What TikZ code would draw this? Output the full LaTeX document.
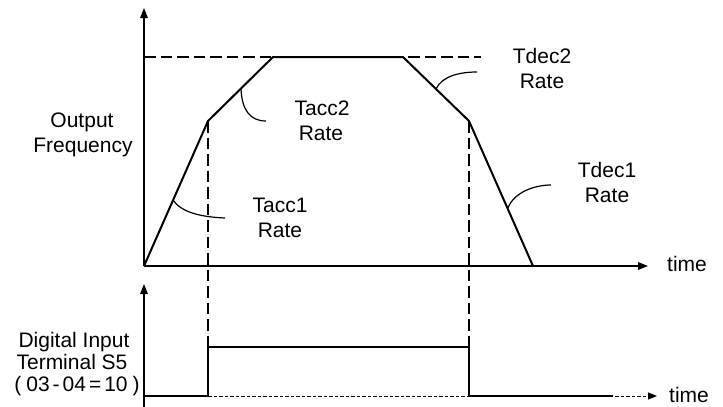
\documentclass[tikz,border=0pt]{standalone}
\usepackage{fontspec}
\setmainfont{Liberation Sans}
\usetikzlibrary{arrows.meta}
\begin{document}
\begin{tikzpicture}[x=1pt,y=-1pt,
  txt/.style={font=\fontsize{21}{25}\selectfont, inner sep=0pt, anchor=base},
  axis/.style={line width=1.4pt, -{Triangle[length=10pt,width=7.5pt]}},
  prof/.style={line width=2pt, line join=miter},
  guide/.style={line width=2pt, dash pattern=on 11.5pt off 5pt},
  thin/.style={line width=1pt, dash pattern=on 3.5pt off 2pt},
  leader/.style={line width=1.2pt}]
\useasboundingbox (0,0) rectangle (723,407);
% coordinates
\coordinate (o) at (144,266);
\coordinate (ytop) at (144,8);
\coordinate (xend) at (648,266);
\coordinate (p1) at (208,121);
\coordinate (p2) at (273,57);
\coordinate (p3) at (403,57);
\coordinate (p4) at (469,121);
\coordinate (p5) at (533,266);
\coordinate (dl) at (144,57);
\coordinate (dr) at (481,57);
% lower chart
\coordinate (ob) at (144,407);
\coordinate (ybtop) at (144,284);
\coordinate (l0) at (144,396);
\coordinate (r1) at (208,396);
\coordinate (h1) at (208,347);
\coordinate (h2) at (469,347);
\coordinate (r2) at (469,396);
\coordinate (l3) at (613,396);
\coordinate (bend) at (657,396);
% axes
\draw[axis] (o) -- (ytop);
\draw[axis] (o) -- (xend);
\draw[axis] (ob) -- (ybtop);
% dashed max line
\draw[guide] (dl) -- (dr);
% profile
\draw[prof] (o) -- (p1) -- (p2) -- (p3) -- (p4) -- (p5);
% vertical guides
\draw[guide] (p1) -- (h1);
\draw[guide] (p4) -- (h2);
% digital signal
\draw[thin, -{Triangle[length=9pt,width=7pt]}] (r1) -- (bend);
\draw[prof] (l0) -- (r1) -- (h1) -- (h2) -- (r2) -- (l3);
% leaders
\coordinate (a2s) at (241,89);
\coordinate (a2e) at (266,121);
\draw[leader] (a2s) .. controls (242,110) and (250,121) .. (a2e);
\coordinate (a1s) at (173,200);
\coordinate (a1e) at (225,218);
\draw[leader] (a1s) .. controls (181,212) and (200,217) .. (a1e);
\coordinate (d2s) at (436,89);
\coordinate (d2e) at (477,72);
\draw[leader] (d2s) .. controls (442,76) and (460,72) .. (d2e);
\coordinate (d1s) at (508,208);
\coordinate (d1e) at (551,185);
\draw[leader] (d1s) .. controls (514,192) and (535,185) .. (d1e);
% labels
\node[txt] (of1) at (82,127) {Output};
\node[txt] (of2) at (83,152) {Frequency};
\node[txt] (ta2a) at (322,115) {Tacc2};
\node[txt] (ta2b) at (321,140) {Rate};
\node[txt] (ta1a) at (280,212) {Tacc1};
\node[txt] (ta1b) at (280,237) {Rate};
\node[txt] (td2a) at (542,63) {Tdec2};
\node[txt] (td2b) at (542,88) {Rate};
\node[txt] (td1a) at (607,177) {Tdec1};
\node[txt] (td1b) at (607,202) {Rate};
\node[txt, anchor=base west] (t1) at (667,271) {time};
\node[txt, anchor=base west] (t2) at (669,402) {time};
\node[txt] (di1) at (74,347) {Digital Input};
\node[txt] (di2) at (72,369) {Terminal S5};
\node[txt] (di3) at (77,391) {(\hspace{5pt}03\hspace{3pt}-\hspace{3pt}04\hspace{3pt}=\hspace{3pt}10\hspace{5pt})};
\end{tikzpicture}
\end{document}
